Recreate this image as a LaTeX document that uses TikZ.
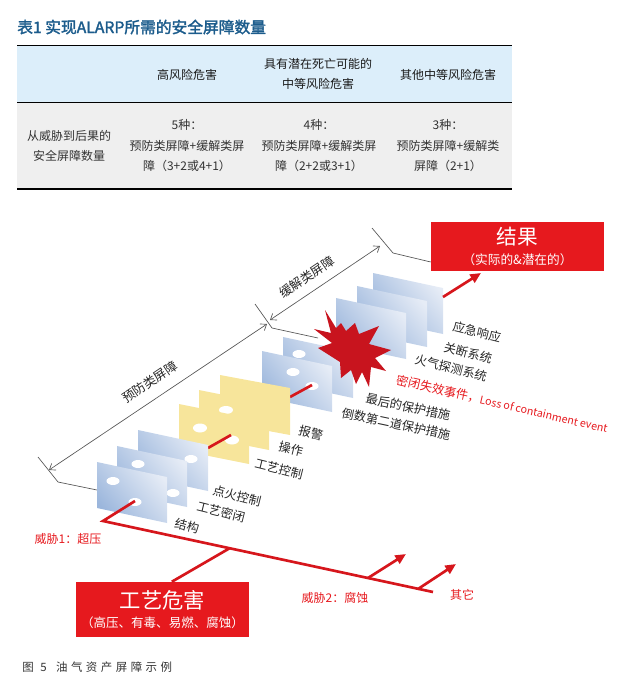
\documentclass[tikz,border=0pt]{standalone}
\usepackage{fontspec}
\setmainfont{Noto Sans CJK SC}
\newfontfamily\titlefont{Noto Sans CJK SC}[FakeBold=2]
\usetikzlibrary{arrows.meta}
\definecolor{titleblue}{RGB}{28,92,140}
\definecolor{headblue}{RGB}{220,238,250}
\definecolor{bodygray}{RGB}{239,239,239}
\definecolor{alarmred}{RGB}{230,25,30}
\definecolor{linered}{RGB}{214,22,28}
\definecolor{starred}{RGB}{200,20,30}
\definecolor{paneldark}{RGB}{155,182,220}
\definecolor{panellight}{RGB}{230,236,246}
\definecolor{panelyellow}{RGB}{247,229,155}
\definecolor{dimgray}{RGB}{85,85,85}

\begin{document}
\begin{tikzpicture}[x=0.75pt,y=-0.75pt,
  >={Straight Barb[length=4pt,width=6pt]},
  panelblue/.style={bottom color=paneldark,top color=panellight,shading angle=-50},
  panelyel/.style={fill=panelyellow},
  hole/.style={fill=white},
  redline/.style={draw=linered,line width=2pt},
  redarrow/.style={redline,-{Triangle[length=8pt,width=7pt]}},
  dimline/.style={draw=dimgray,line width=0.5pt},
  dimlabel/.style={font=\fontsize{9.5}{11}\selectfont,text=black!85,rotate=34,inner sep=0pt},
  barlabel/.style={font=\fontsize{9.2}{11}\selectfont,text=black!85,rotate=-14,inner sep=0pt},
  threatlabel/.style={font=\fontsize{9}{11}\selectfont,text=alarmred,inner sep=0pt},
  redbox/.style={fill=alarmred,text=white,align=center,inner sep=0pt},
  headtext/.style={font=\fontsize{9}{15.4}\selectfont,align=center,inner sep=0pt,text=black!90},
  bodytext/.style={font=\fontsize{9}{15.4}\selectfont,align=center,inner sep=0pt,text=black!80},
]
\useasboundingbox (0,0) rectangle (634,689);

% table
\node[anchor=west,inner sep=0pt,text=titleblue,font=\titlefont\fontsize{11.8}{14}\selectfont] (title) at (17,27) {表1 实现ALARP所需的安全屏障数量};
\fill[headblue] (17,46) rectangle (512,101.5);
\fill[bodygray] (17,102.5) rectangle (512,188);
\draw[line width=1pt] (17,45.5) -- (512,45.5);
\draw[line width=0.5pt] (17,102) -- (512,102);
\draw[line width=1.3pt] (17,188.7) -- (512,188.7);
\node[headtext] (headA) at (187,75) {高风险危害};
\node[headtext] (headB) at (318,74) {具有潜在死亡可能的\\中等风险危害};
\node[headtext] (headC) at (448,75) {其他中等风险危害};
\node[bodytext] (rowname) at (69,146) {从威胁到后果的\\安全屏障数量};
\node[bodytext] (cellA) at (187,146) {5种：\\预防类屏障+缓解类屏\\障（3+2或4+1）};
\node[bodytext] (cellB) at (319,146) {4种：\\预防类屏障+缓解类屏\\障（2+2或3+1）};
\node[bodytext] (cellC) at (448,146) {3种：\\预防类屏障+缓解类\\屏障（2+1）};

% boxes
\node[redbox,minimum width=129.75pt,minimum height=36.75pt] (result) at (517.5,246.5)
  {{\fontsize{15.5}{18}\selectfont 结果}\\[3.6pt]{\fontsize{9.5}{12}\selectfont （实际的\&潜在的）}};
\node[redbox,minimum width=129.75pt,minimum height=41.25pt] (hazard) at (162.5,609.5)
  {{\fontsize{16}{18}\selectfont 工艺危害}\\[2.3pt]{\fontsize{9.4}{12}\selectfont （高压、有毒、易燃、腐蚀）}};

% dimension lines
\coordinate (prevlow) at (49,470);
\coordinate (prevhigh) at (267,324);
\coordinate (mitlow) at (270,320);
\coordinate (mithigh) at (380,246);
\coordinate (extA1) at (38,457);
\coordinate (extA2) at (58,482);
\coordinate (extA3) at (97,490);
\coordinate (extB1) at (255,304);
\coordinate (extB2) at (272,328);
\coordinate (extB3) at (318,338);
\coordinate (extC1) at (372,228);
\coordinate (extC2) at (393,253);
\coordinate (extC3) at (result.west |- 0,262);
\draw[dimline] (extA1) -- (extA2) -- (extA3);
\draw[dimline] (extB1) -- (extB2) -- (extB3);
\draw[dimline] (extC1) -- (extC2) -- (extC3);
\draw[dimline,<->] (prevlow) -- (prevhigh);
\draw[dimline,<->] (mitlow) -- (mithigh);
\node[dimlabel] (prevlabel) at (150,382) {预防类屏障};
\node[dimlabel] (mitlabel) at (307,277) {缓解类屏障};

% mitigation barriers
\shade[panelblue] (373,273) -- ++(70,15) -- ++(0,46) -- ++(-70,-15) -- cycle;
\shade[panelblue] (357,286) -- ++(70,15) -- ++(0,46) -- ++(-70,-15) -- cycle;
\shade[panelblue] (336,298) -- ++(70,15) -- ++(0,46) -- ++(-70,-15) -- cycle;
\coordinate (m3out) at (443,297);
\coordinate (restip) at (481,273);
\draw[redarrow] (m3out) -- (restip);

% last two prevention barriers and the event
\shade[panelblue] (283,337) -- ++(70,15) -- ++(0,46) -- ++(-70,-15) -- cycle;
\fill[hole] (299,354) ellipse [x radius=6.5, y radius=4];
\fill[starred] (325,310) -- (336,328) -- (341,323) -- (346,331) -- (355,323) -- (359,334)
  -- (379,326) -- (369,344) -- (391,350) -- (375,358) -- (386,371) -- (371,367)
  -- (369,387) -- (362,372) -- (356,384) -- (351,370) -- (341,378) -- (340,362)
  -- (318,348) -- (332,343) -- (314,329) -- (331,333) -- cycle;
\shade[panelblue] (262,351) -- ++(70,15) -- ++(0,46) -- ++(-70,-15) -- cycle;
\fill[hole] (293,372) ellipse [x radius=6.5, y radius=4];
\fill[hole] (312,386) ellipse [x radius=6.5, y radius=4];
\coordinate (y3out) at (290,397);
\coordinate (q1hole) at (312,385);
\draw[redline] (y3out) -- (q1hole);

% control barriers
\fill[panelyel] (220,375) -- ++(70,13) -- ++(0,47) -- ++(-70,-13) -- cycle;
\fill[panelyel] (199,390) -- ++(70,14) -- ++(0,46) -- ++(-70,-14) -- cycle;
\fill[hole] (226,410) ellipse [x radius=7, y radius=4];
\fill[panelyel] (179,404) -- ++(70,14) -- ++(0,46) -- ++(-70,-14) -- cycle;
\fill[hole] (200,428) ellipse [x radius=7, y radius=4.5];
\fill[hole] (232,440) ellipse [x radius=7, y radius=4.5];
\coordinate (p3out) at (208,448);
\coordinate (y1hole) at (231,435);
\draw[redline] (p3out) -- (y1hole);

% first prevention barriers
\shade[panelblue] (138,430) -- ++(70,15) -- ++(0,46) -- ++(-70,-15) -- cycle;
\fill[hole] (191,459) ellipse [x radius=6.5, y radius=4];
\shade[panelblue] (117,446) -- ++(70,15) -- ++(0,46) -- ++(-70,-15) -- cycle;
\fill[hole] (138,464) ellipse [x radius=6.5, y radius=4];
\fill[hole] (173,493) ellipse [x radius=6.5, y radius=4];
\shade[panelblue] (97,462) -- ++(70,15) -- ++(0,46) -- ++(-70,-15) -- cycle;
\fill[hole] (113,481) ellipse [x radius=6.5, y radius=4];
\fill[hole] (135,502) ellipse [x radius=6.5, y radius=4];

% threats
\coordinate (p1hole) at (135,501);
\coordinate (t1corner) at (103,521);
\coordinate (threatend) at (433,592);
\coordinate (hazjoin) at (230,548);
\coordinate (b1start) at (368,578);
\coordinate (b1tip) at (406,554);
\coordinate (b2start) at (418,589);
\coordinate (b2tip) at (456,564);
\draw[redline] (p1hole) -- (t1corner) -- (threatend);
\draw[redline] ([xshift=7pt]hazard.north) -- (hazjoin);
\draw[redarrow] (b1start) -- (b1tip);
\draw[redarrow] (b2start) -- (b2tip);

% labels
\node[barlabel] (lbjiegou) at (187,526) {结构};
\node[barlabel] (lbmibi) at (221,512) {工艺密闭};
\node[barlabel] (lbdianhuo) at (237,496) {点火控制};
\node[barlabel] (lbkongzhi) at (279,469) {工艺控制};
\node[barlabel] (lbcaozuo) at (291,449) {操作};
\node[barlabel] (lbbaojing) at (311,433) {报警};
\node[barlabel,rotate=2] (lbdaoshu) at (396,424) {倒数第二道保护措施};
\node[barlabel,rotate=2] (lbzuihou) at (408,407) {最后的保护措施};
\node[barlabel,rotate=1,text=alarmred] (lbevent) at (502,404) {密闭失效事件，{\fontsize{8}{10}\selectfont Loss of containment event}};
\node[barlabel] (lbhuoqi) at (451,368) {火气探测系统};
\node[barlabel] (lbguanduan) at (468,353) {关断系统};
\node[barlabel] (lbyingji) at (477,332) {应急响应};
\node[threatlabel] (threat1) at (68,539) {威胁1：超压};
\node[threatlabel] (threat2) at (335,598) {威胁2：腐蚀};
\node[threatlabel] (threat3) at (462,595) {其它};

% caption
\node[anchor=west,inner sep=0pt,text=black!80,font=\fontsize{8.6}{10}\selectfont] (caption) at (22,667)
  {图\hspace{5pt}5\hspace{7pt}油\hspace{2.6pt}气\hspace{2.6pt}资\hspace{2.6pt}产\hspace{2.6pt}屏\hspace{2.6pt}障\hspace{2.6pt}示\hspace{2.6pt}例};
\end{tikzpicture}
\end{document}
